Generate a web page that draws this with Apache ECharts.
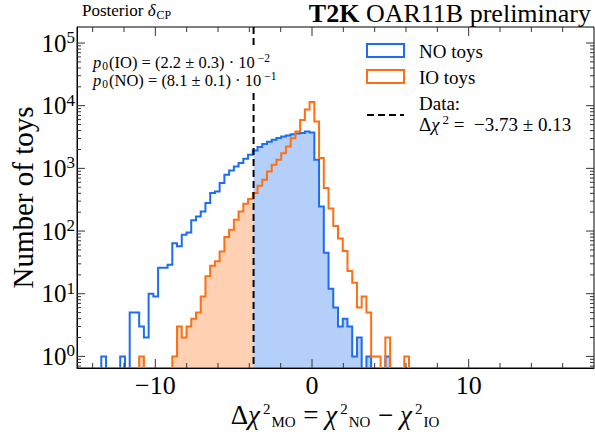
<!DOCTYPE html>
<html><head><meta charset="utf-8">
<script src="https://cdn.jsdelivr.net/npm/echarts@6/dist/echarts.min.js"></script>
<style>html,body{margin:0;padding:0;background:#fff}#c{width:595px;height:432px}</style>
</head><body><div id="c"></div>
<script>
// ---- data ----
const BIN_START = -13.45;
const BIN_WIDTH = 0.3022;
const NO_COUNTS = [1,0,0,0,1,0,5,5,3,2,10,9,26,26,29,64,57,87,95,148,171,205,280,404,428,583,790,926,1072,1216,1420,1650,1930,2190,2450,2650,2860,3040,3230,3350,3500,3600,3650,3880,3750,1370,247,45,12,6,3,4,3,1,2,0,1,0,0,0,1,0,0,0,0];
const IO_COUNTS = [0,0,0,0,0,0,0,0,1,0,0,0,0,0,0,1,3,2,3,4,5,9,19,28,33,47,80,105,151,205,272,324,404,530,660,893,1140,1370,1750,2230,3030,3880,5900,8700,11400,5600,1460,487,228,120,76,48,23,15,6,9,5,1,1,0,2,0,0,0,1];
const DATA_VALUE = -3.73;
const X_MIN = -15, X_MAX = 18;
const Y_MIN = 0.653, Y_MAX = 1.8e5;
const X_MAJOR = [-10, 0, 10];
const X_MINOR = [-14, -12, -8, -6, -4, -2, 2, 4, 6, 8, 12, 14, 16];
const Y_DECADES = [0, 1, 2, 3, 4, 5];

// ---- style ----
const SERIF = '"Liberation Serif","DejaVu Serif",serif';
const BLUE = '#1d6cf2', ORANGE = '#ff6f12';
const BLUE_FILL = 'rgba(29,108,242,0.33)', ORANGE_FILL = 'rgba(255,111,18,0.33)';

function rich(base, lh, s, slh) {
  return {
    r: {fontFamily: SERIF, fontSize: base, lineHeight: lh, color: '#000'},
    i: {fontFamily: SERIF, fontSize: base, fontStyle: 'italic', lineHeight: lh, color: '#000'},
    sup: {fontFamily: SERIF, fontSize: s, lineHeight: slh, verticalAlign: 'top', padding: [0, 0, 0, 3], color: '#000'},
    sub: {fontFamily: SERIF, fontSize: s, lineHeight: slh, verticalAlign: 'bottom', padding: [0, 1, 0, 1], color: '#000'},
    b: {fontFamily: SERIF, fontSize: base, fontWeight: 'bold', lineHeight: lh, color: '#000'}
  };
}

const edge = k => BIN_START + k * BIN_WIDTH;
const yv = c => (c > 0 ? c : Y_MIN);

function outline(counts, api) {
  const segs = []; let cur = null; const n = counts.length;
  for (let k = 0; k < n; k++) {
    const c = counts[k], x0 = edge(k), x1 = edge(k + 1);
    if (c > 0) {
      if (!cur) cur = [api.coord([x0, Y_MIN])];
      cur.push(api.coord([x0, c]));
      cur.push(api.coord([x1, c]));
    } else if (cur) {
      cur.push(api.coord([x0, Y_MIN])); segs.push(cur); cur = null;
    }
  }
  if (cur) { cur.push(api.coord([edge(n), Y_MIN])); segs.push(cur); }
  return segs;
}
function fillPoly(counts, xa, xb, api) {
  const pts = [api.coord([xa, Y_MIN])];
  for (let k = 0; k < counts.length; k++) {
    const lo = Math.max(edge(k), xa), hi = Math.min(edge(k + 1), xb);
    if (hi > lo) { pts.push(api.coord([lo, yv(counts[k])])); pts.push(api.coord([hi, yv(counts[k])])); }
  }
  pts.push(api.coord([xb, Y_MIN]));
  return pts;
}

function renderHist(params, api) {
  const children = [];
  children.push({type: 'polygon', shape: {points: fillPoly(IO_COUNTS, edge(0), DATA_VALUE, api)}, style: {fill: ORANGE_FILL}});
  children.push({type: 'polygon', shape: {points: fillPoly(NO_COUNTS, DATA_VALUE, edge(NO_COUNTS.length), api)}, style: {fill: BLUE_FILL}});
  outline(NO_COUNTS, api).forEach(p => children.push({type: 'polyline', shape: {points: p}, style: {stroke: BLUE, lineWidth: 2, fill: null}}));
  outline(IO_COUNTS, api).forEach(p => children.push({type: 'polyline', shape: {points: p}, style: {stroke: ORANGE, lineWidth: 2, fill: null}}));
  const t = api.coord([DATA_VALUE, Y_MAX]), b = api.coord([DATA_VALUE, Y_MIN]);
  children.push({type: 'line', shape: {x1: t[0], y1: t[1], x2: b[0], y2: b[1]}, style: {stroke: '#000', lineWidth: 2, lineDash: [7, 4]}});
  return {type: 'group', children};
}

function renderTicks(params, api) {
  const ch = []; const col = '#333';
  const L = api.coord([X_MIN, Y_MIN]), R = api.coord([X_MAX, Y_MAX]);
  const left = L[0], bottom = L[1], right = R[0], top = R[1];
  const xt = (v, len) => { const x = api.coord([v, Y_MIN])[0];
    ch.push({type: 'line', shape: {x1: x, y1: bottom, x2: x, y2: bottom - len}, style: {stroke: col, lineWidth: 1}});
    ch.push({type: 'line', shape: {x1: x, y1: top, x2: x, y2: top + len}, style: {stroke: col, lineWidth: 1}}); };
  const yt = (v, len) => { const y = api.coord([X_MIN, v])[1];
    ch.push({type: 'line', shape: {x1: left, y1: y, x2: left + len, y2: y}, style: {stroke: col, lineWidth: 1}});
    ch.push({type: 'line', shape: {x1: right, y1: y, x2: right - len, y2: y}, style: {stroke: col, lineWidth: 1}}); };
  X_MAJOR.forEach(v => xt(v, 9));
  X_MINOR.forEach(v => xt(v, 5));
  for (let d = -1; d <= 5; d++) {
    const p = Math.pow(10, d);
    if (p >= Y_MIN && p <= Y_MAX) yt(p, 8);
    for (let m = 2; m <= 9; m++) { const v = m * p; if (v > Y_MIN && v < Y_MAX) yt(v, 4); }
  }
  return {type: 'group', children: ch};
}

const chart = echarts.init(document.getElementById('c'), null, {renderer: 'svg'});
const option = {
  animation: false,
  backgroundColor: '#fff',
  grid: {left: 77, top: 27, width: 517, height: 341, show: true, borderColor: '#000', borderWidth: 1, backgroundColor: 'transparent', containLabel: false},
  xAxis: {type: 'value', min: X_MIN, max: X_MAX, interval: 5,
    axisLine: {show: true, onZero: false, lineStyle: {color: '#000', width: 1}}, axisTick: {show: false}, splitLine: {show: false},
    axisLabel: {margin: 6, lineHeight: 22, showMinLabel: false, showMaxLabel: false, color: '#000', fontFamily: SERIF, fontSize: 26,
      formatter: v => X_MAJOR.indexOf(v) >= 0 ? (v < 0 ? '\u2212' + Math.abs(v) : String(v)) : ''}},
  yAxis: {type: 'log', logBase: 10, min: Y_MIN, max: Y_MAX,
    axisLine: {show: true, onZero: false, lineStyle: {color: '#000', width: 1}}, axisTick: {show: false}, splitLine: {show: false}, minorTick: {show: false},
    axisLabel: {margin: 2, showMinLabel: false, showMaxLabel: false, color: '#000',
      formatter: v => { const e = Math.log10(v), r = Math.round(e);
        return (Math.abs(e - r) < 1e-6 && Y_DECADES.indexOf(r) >= 0) ? '{r|10}{s|' + r + '}' : ''; },
      rich: {r: {fontFamily: SERIF, fontSize: 25, lineHeight: 28, color: '#000'},
             s: {fontFamily: SERIF, fontSize: 17, lineHeight: 13, verticalAlign: 'top', color: '#000'}}}},
  series: [
    {type: 'custom', coordinateSystem: 'cartesian2d', data: [[0, 1]], renderItem: renderHist, z: 2, silent: true},
    {type: 'custom', coordinateSystem: 'cartesian2d', data: [[0, 1]], renderItem: renderTicks, z: 3, silent: true}
  ],
  graphic: [
    {type: 'rect', shape: {x: 86, y: 47, width: 190, height: 45}, style: {fill: '#fff'}, z: 5},
    {type: 'text', left: 82, top: 2, style: {text: '{r|Posterior }{i|δ}{sub|CP}', rich: rich(17, 20, 12, 10)}, z: 10},
    {type: 'text', right: 4, top: 0, style: {text: '{b|T2K}{r| OAR11B preliminary}', rich: rich(26, 28, 18, 14)}, z: 10},
    {type: 'text', x: 93, y: 62, style: {text: '{i|p}{sub|0}{r|(IO) = (2.2 ± 0.3) · 10}{sup|−2}', rich: rich(16.5, 20, 11.5, 10), verticalAlign: 'middle'}, z: 10},
    {type: 'text', x: 93, y: 80, style: {text: '{i|p}{sub|0}{r|(NO) = (8.1 ± 0.1) · 10}{sup|−1}', rich: rich(16.5, 20, 11.5, 10), verticalAlign: 'middle'}, z: 10},
    {type: 'rect', shape: {x: 367, y: 44, width: 37, height: 13}, style: {fill: '#fff', stroke: BLUE, lineWidth: 2}, z: 10},
    {type: 'rect', shape: {x: 367, y: 70, width: 37, height: 13}, style: {fill: '#fff', stroke: ORANGE, lineWidth: 2}, z: 10},
    {type: 'line', shape: {x1: 367, y1: 115, x2: 404, y2: 115}, style: {stroke: '#000', lineWidth: 2, lineDash: [7, 4]}, z: 10},
    {type: 'text', x: 419, y: 51, style: {text: 'NO toys', fontFamily: SERIF, fontSize: 19, fill: '#000', verticalAlign: 'middle'}, z: 10},
    {type: 'text', x: 419, y: 77, style: {text: 'IO toys', fontFamily: SERIF, fontSize: 19, fill: '#000', verticalAlign: 'middle'}, z: 10},
    {type: 'text', x: 419, y: 103, style: {text: 'Data:', fontFamily: SERIF, fontSize: 19, fill: '#000', verticalAlign: 'middle'}, z: 10},
    {type: 'text', x: 419, y: 124, style: {text: '{r|Δ}{i|χ}{sup|2}{r| =  −3.73 ± 0.13}', rich: rich(19, 22, 13, 11), verticalAlign: 'middle'}, z: 10},
    {type: 'text', x: 335.5, y: 415, style: {text: '{r|Δ}{i|χ}{sup|2}{sub|MO}{r| = }{i|χ}{sup|2}{sub|NO}{r| − }{i|χ}{sup|2}{sub|IO}', rich: rich(27, 28, 15, 13), align: 'center', verticalAlign: 'middle'}, z: 10},
    {type: 'text', x: 23, y: 197.5, rotation: Math.PI / 2, style: {text: 'Number of toys', fontFamily: SERIF, fontSize: 29, fill: '#000', align: 'center', verticalAlign: 'middle'}, z: 10}
  ]
};
chart.setOption(option);
</script></body></html>
